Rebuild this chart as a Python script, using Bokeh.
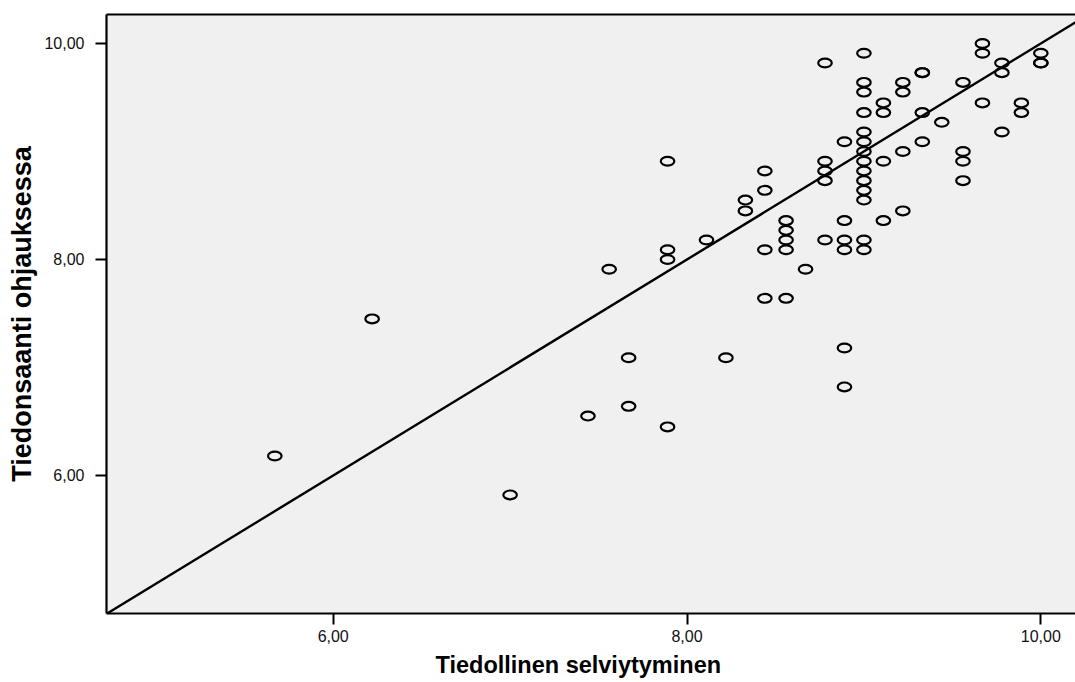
from bokeh.plotting import figure
from bokeh.models import LinearAxis, FixedTicker, Range1d, Slope, Title
from bokeh.embed import file_html
from bokeh.resources import INLINE

# ---- data ----
x_vals = [5.67, 6.22, 7.00, 7.44, 7.56,
          7.67, 7.67,
          7.89, 7.89, 7.89, 7.89,
          8.11, 8.22,
          8.33, 8.33,
          8.44, 8.44, 8.44, 8.44,
          8.56, 8.56, 8.56, 8.56, 8.56,
          8.67,
          8.78, 8.78, 8.78, 8.78, 8.78,
          8.89, 8.89, 8.89, 8.89, 8.89, 8.89,
          9.00, 9.00, 9.00, 9.00, 9.00, 9.00, 9.00, 9.00, 9.00, 9.00, 9.00, 9.00, 9.00, 9.00,
          9.11, 9.11, 9.11, 9.11,
          9.22, 9.22, 9.22, 9.22,
          9.33, 9.33, 9.33, 9.33,
          9.44,
          9.56, 9.56, 9.56, 9.56,
          9.67, 9.67, 9.67,
          9.78, 9.78, 9.78,
          9.89, 9.89,
          10.00, 10.00, 10.00]
y_vals = [6.18, 7.45, 5.82, 6.55, 7.91,
          7.09, 6.64,
          8.91, 8.09, 8.00, 6.45,
          8.18, 7.09,
          8.55, 8.45,
          8.82, 8.64, 8.09, 7.64,
          8.36, 8.27, 8.18, 8.09, 7.64,
          7.91,
          9.82, 8.91, 8.82, 8.73, 8.18,
          9.09, 8.36, 8.18, 8.09, 7.18, 6.82,
          9.91, 9.64, 9.55, 9.36, 9.18, 9.09, 9.00, 8.91, 8.82, 8.73, 8.64, 8.55, 8.18, 8.09,
          9.45, 9.36, 8.91, 8.36,
          9.64, 9.55, 9.00, 8.45,
          9.73, 9.73, 9.36, 9.09,
          9.27,
          9.64, 9.00, 8.91, 8.73,
          10.00, 9.91, 9.45,
          9.82, 9.73, 9.18,
          9.45, 9.36,
          9.91, 9.82, 9.82]

x_ticks = [6, 8, 10]
x_tick_labels = ["6,00", "8,00", "10,00"]
y_ticks = [6, 8, 10]
y_tick_labels = ["6,00", "8,00", "10,00"]

x_title = "Tiedollinen selviytyminen"
y_title = "Tiedonsaanti ohjauksessa"

fit_slope = 1.0
fit_intercept = 0.0

x_range = (4.7185, 10.196)
y_range = (4.722, 10.2685)

FONT = "Liberation Sans"

p = figure(width=1075, height=682,
           x_range=Range1d(*x_range), y_range=Range1d(*y_range),
           output_backend="svg", toolbar_location=None,
           min_border_left=106, min_border_right=0,
           min_border_top=14, min_border_bottom=69)

p.background_fill_color = "#f0f0f0"
p.border_fill_color = "white"
p.outline_line_color = None
p.grid.visible = False

# axes
for ax, ticks, labels in ((p.xaxis[0], x_ticks, x_tick_labels),
                          (p.yaxis[0], y_ticks, y_tick_labels)):
    ax.ticker = FixedTicker(ticks=ticks)
    ax.major_label_overrides = {t: l for t, l in zip(ticks, labels)}
    ax.axis_line_width = 2.2
    ax.axis_line_color = "black"
    ax.major_tick_line_width = 2
    ax.major_tick_line_color = "black"
    ax.major_tick_in = 0
    ax.major_tick_out = 11
    ax.minor_tick_line_color = None
    ax.major_label_text_font = FONT
    ax.major_label_text_font_size = "16px"
    ax.major_label_text_color = "#111111"

p.xaxis[0].major_label_standoff = 5
p.yaxis[0].major_label_standoff = 11
p.yaxis[0].axis_label = y_title
p.yaxis[0].axis_label_text_font = FONT
p.yaxis[0].axis_label_text_font_size = "27px"
p.yaxis[0].axis_label_text_font_style = "bold"
p.yaxis[0].axis_label_text_color = "black"
p.yaxis[0].axis_label_standoff = 4

# top border line
top = LinearAxis(ticker=FixedTicker(ticks=[]), major_tick_out=0, major_tick_in=0,
                 minor_tick_out=0, minor_tick_in=0,
                 major_label_text_font_size="0px",
                 axis_line_width=2.2, axis_line_color="black")
p.add_layout(top, "above")

# x title
xt = Title(text=x_title, align="left", offset=329, standoff=10,
           text_font=FONT, text_font_size="23.5px", text_font_style="bold",
           text_color="black")
p.add_layout(xt, "below")

# fit line
p.add_layout(Slope(gradient=fit_slope, y_intercept=fit_intercept,
                   line_color="black", line_width=2.4))

# points
p.ellipse(x=x_vals, y=y_vals, width=13.5, height=8.8,
          width_units="screen", height_units="screen",
          fill_color=None, line_color="black", line_width=2.2)

open("out.html", "w").write(file_html(p, INLINE))
